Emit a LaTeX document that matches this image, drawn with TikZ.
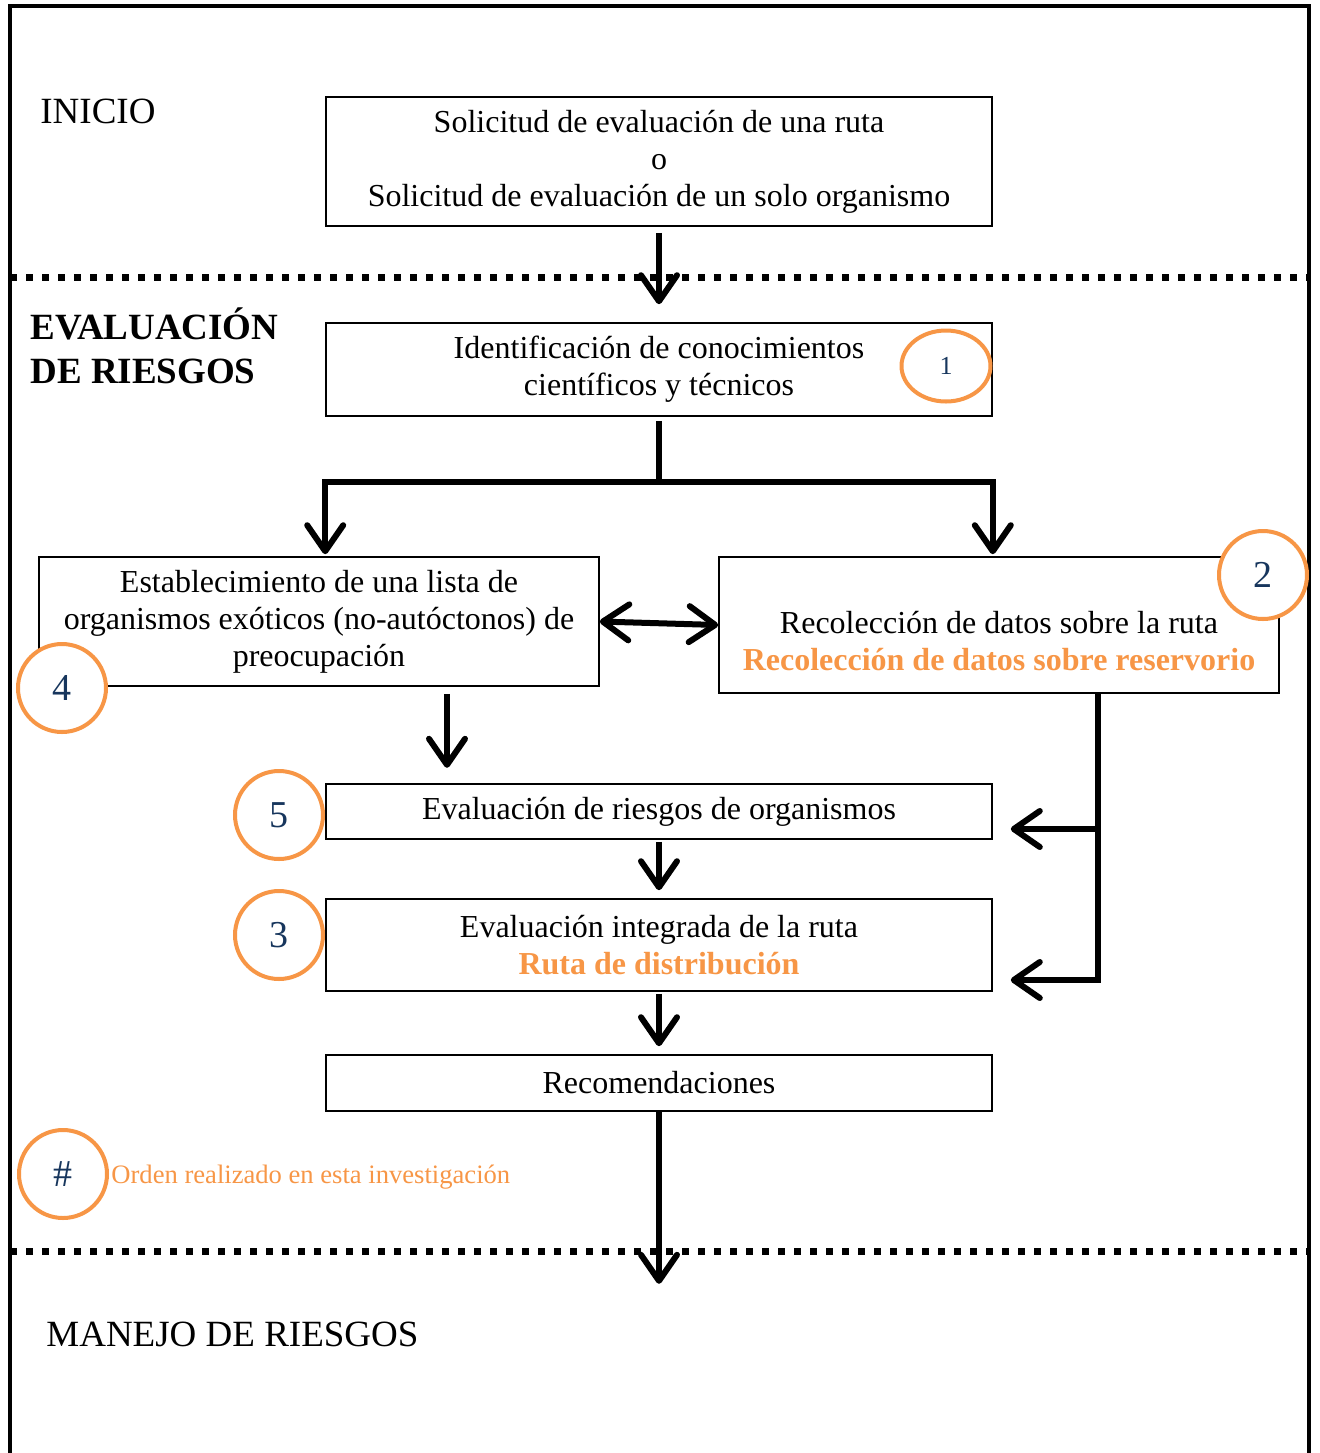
\documentclass[tikz,border=0pt]{standalone}
\usepackage{fontspec}
\setmainfont{Liberation Serif}
\usepackage{tikz}
\usetikzlibrary{positioning,calc,arrows.meta,shapes.geometric}
\definecolor{naranja}{RGB}{247,150,70}
\definecolor{azulnum}{RGB}{23,54,93}
\tikzstyle{caja} = [draw, line width=0.8pt, align=center, inner sep=0pt, font=\fontsize{16}{18.5}\selectfont]
\tikzstyle{circulo} = [draw=naranja, fill=white, line width=2pt, circle, minimum size=44pt, inner sep=0pt, text=azulnum, font=\fontsize{19}{22}\selectfont]
\tikzstyle{grueso} = [draw, line width=3pt]
\tikzstyle{flecha} = [grueso, -{Straight Barb[length=13pt,width=18pt,round]}]
\tikzstyle{doble} = [grueso, {Straight Barb[length=13pt,width=18pt,round]}-{Straight Barb[length=13pt,width=18pt,round]}]
\tikzstyle{punteado} = [draw, line width=3.5pt, dash pattern=on 3.5pt off 4.5pt]
\tikzstyle{marco} = [draw, line width=2pt]
\tikzstyle{titulo} = [anchor=west, inner sep=0pt, font=\fontsize{18.5}{22}\selectfont]

\begin{document}
\begin{tikzpicture}[x=0.5pt, y=-0.5pt]
    \useasboundingbox (0,0) rectangle (1320,1453);
    % marco y separaciones
    \draw[marco] (10,1453) -- (10,6) -- (1309,6) -- (1309,1453);
    \draw[punteado] (10,277) -- (1309,277);
    \draw[punteado] (10,1251) -- (1309,1251);

    \node[titulo] (inicio) at (40,111) {INICIO};
    \node[titulo, align=left, font=\bfseries\fontsize{18.5}{22}\selectfont] (evaluacion) at (30,346) {EVALUACIÓN\\DE RIESGOS};
    \node[titulo] (manejo) at (46,1334) {MANEJO DE RIESGOS};

    \node[caja, minimum width=333pt, minimum height=64.5pt] (solicitud) at (659,161.5) {Solicitud de evaluación de una ruta\\o\\Solicitud de evaluación de un solo organismo};
    \node[caja, minimum width=333pt, minimum height=46.5pt] (identif) at (659,369.5) {Identificación de conocimientos\\científicos y técnicos};
    \node[caja, minimum width=280pt, minimum height=64.5pt] (lista) at (319,621.5) {Establecimiento de una lista de\\organismos exóticos (no-autóctonos) de\\preocupación};
    \node[caja, minimum width=280pt, minimum height=68pt] (recoleccion) at (999,625) {\rule{0pt}{9pt}\\Recolección de datos sobre la ruta\\\textbf{\textcolor{naranja}{Recolección de datos sobre reservorio}}};
    \node[caja, minimum width=333pt, minimum height=27.5pt] (evalorg) at (659,811.5) {Evaluación de riesgos de organismos};
    \node[caja, minimum width=333pt, minimum height=46pt] (evalruta) at (659,945) {Evaluación integrada de la ruta\\\textbf{\textcolor{naranja}{Ruta de distribución}}};
    \node[caja, minimum width=333pt, minimum height=28pt] (recomend) at (659,1083) {Recomendaciones};

    % conexiones
    \draw[flecha] ([yshift=-3pt]solicitud.south) -- ([yshift=9pt]identif.north);
    \draw[grueso] ([yshift=-2pt]identif.south) -- ++(0,61) coordinate (ramal);
    \draw[flecha] (ramal) -| ([yshift=1pt]identif.west |- lista.north);
    \draw[flecha] (ramal) -| ([yshift=1pt]identif.east |- recoleccion.north);
    \draw[doble] (lista.east) -- (recoleccion.west);
    \draw[flecha] ([xshift=64pt,yshift=-3.5pt]lista.south) -- ++(0,74);
    \coordinate (codo1) at (1098,829);
    \coordinate (codo2) at (1098,980);
    \draw[flecha] (recoleccion.south -| codo2) |- ([xshift=9pt]evalruta.east |- codo2);
    \draw[flecha] (codo1) -- ([xshift=9pt]evalorg.east |- codo1);
    \draw[flecha] ([yshift=-1pt]evalorg.south) -- ([yshift=4pt]evalruta.north);
    \draw[flecha] ([yshift=-1pt]evalruta.south) -- ([yshift=4pt]recomend.north);
    \draw[flecha] (recomend.south) -- ++(0,172);

    % orden de la investigacion
    \node[circulo, ellipse, minimum width=44.5pt, minimum height=35.5pt, font=\fontsize{13}{15}\selectfont] (c1) at (946,366) {1};
    \node[circulo] (c2) at (1263,575) {2};
    \node[circulo] (c4) at (62,688) {4};
    \node[circulo] (c5) at (279,815) {5};
    \node[circulo] (c3) at (279,935) {3};
    \node[circulo] (cnum) at (63,1174) {\#};
    \node[anchor=west, inner sep=0pt, text=naranja, font=\fontsize{13.3}{15}\selectfont] (leyenda) at (111,1177) {Orden realizado en esta investigación};
\end{tikzpicture}
\end{document}
